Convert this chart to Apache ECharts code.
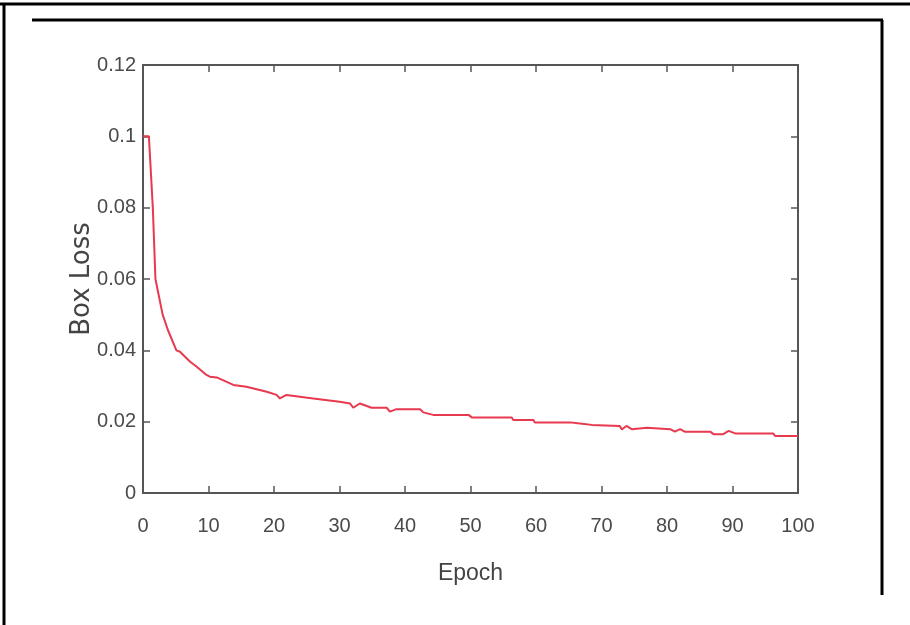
<!DOCTYPE html>
<html>
<head>
<meta charset="utf-8">
<script src="https://cdn.jsdelivr.net/npm/echarts@6/dist/echarts.min.js"></script>
<style>html,body{margin:0;padding:0;background:#fff;}#c{width:910px;height:625px;}</style>
</head>
<body>
<div id="c"></div>
<script>
const epochs = [0, 0.9, 1.5, 1.9, 3.0, 3.8, 5.1, 5.65, 7.2, 8.2, 9.7, 10.2, 11.25, 13.8, 15.8, 18.9, 20.4, 20.9, 21.9, 26, 30, 31.6, 32.1, 33.1, 34.9, 37.2, 37.7, 38.7, 42.3, 42.8, 44.3, 49.7, 50.2, 56.3, 56.5, 59.6, 59.8, 65.2, 66.7, 68.5, 72.8, 73.1, 73.8, 74.6, 76.9, 80.5, 81.2, 82, 82.7, 86.6, 87.1, 88.6, 89.4, 90.4, 96.2, 96.5, 100];
const boxLoss = [0.1, 0.1, 0.08, 0.06, 0.050, 0.0457, 0.0400, 0.0396, 0.0368, 0.0354, 0.0331, 0.0326, 0.0324, 0.0303, 0.0298, 0.0284, 0.0275, 0.0265, 0.0275, 0.0265, 0.0256, 0.0251, 0.0239, 0.0251, 0.0239, 0.0239, 0.0228, 0.0235, 0.0235, 0.0226, 0.0219, 0.0219, 0.0212, 0.0212, 0.0205, 0.0205, 0.0198, 0.0198, 0.0195, 0.0191, 0.0188, 0.0178, 0.0188, 0.0179, 0.0183, 0.0179, 0.0172, 0.0179, 0.0172, 0.0172, 0.0165, 0.0165, 0.0174, 0.0167, 0.0167, 0.0160, 0.0160];
const xTicks = {min: 0, max: 100, interval: 10};
const yTicks = {min: 0, max: 0.12, interval: 0.02};
const xName = 'Epoch';
const yName = 'Box Loss';

const chart = echarts.init(document.getElementById('c'), null, {renderer: 'canvas'});
const axisLine = {show: true, onZero: false, lineStyle: {color: '#555', width: 2}};
const tickIn = {show: true, inside: true, length: 7, lineStyle: {color: '#555', width: 1.5}};
const lblFont = {fontFamily: '"Liberation Sans Narrow", "Liberation Sans", Arial, sans-serif', fontSize: 20, color: '#4a4a4a'};
chart.setOption({
  animation: false,
  backgroundColor: '#fff',
  grid: {left: 143, top: 65, right: 112, bottom: 132, containLabel: false},
  xAxis: [
    {type: 'value', min: xTicks.min, max: xTicks.max, interval: xTicks.interval, position: 'bottom',
     name: xName, nameLocation: 'middle', nameGap: 69, nameMoveOverlap: false,
     nameTextStyle: {fontFamily: '"Liberation Sans Narrow", "Liberation Sans", Arial, sans-serif', fontSize: 23, color: '#444'},
     axisLine: axisLine, axisTick: tickIn, splitLine: {show: false},
     axisLabel: Object.assign({margin: 23}, lblFont)},
    {type: 'value', min: xTicks.min, max: xTicks.max, interval: xTicks.interval, position: 'top',
     axisLine: axisLine, axisTick: tickIn, splitLine: {show: false}, axisLabel: {show: false}}
  ],
  yAxis: [
    {type: 'value', min: yTicks.min, max: yTicks.max, interval: yTicks.interval, position: 'left',
     name: yName, nameLocation: 'middle', nameGap: 48, nameMoveOverlap: false,
     nameTextStyle: {fontFamily: '"DejaVu Sans", sans-serif', fontSize: 26, color: '#444'},
     axisLine: axisLine, axisTick: tickIn, splitLine: {show: false},
     axisLabel: Object.assign({margin: 7, formatter: v => String(parseFloat(v.toFixed(2)))}, lblFont)},
    {type: 'value', min: yTicks.min, max: yTicks.max, interval: yTicks.interval, position: 'right',
     axisLine: axisLine, axisTick: tickIn, splitLine: {show: false}, axisLabel: {show: false}}
  ],
  series: [{
    type: 'line', xAxisIndex: 0, yAxisIndex: 0, showSymbol: false, smooth: false,
    lineStyle: {color: '#e8394f', width: 2},
    data: epochs.map((e, i) => [e, boxLoss[i]])
  }],
  graphic: [
    {type: 'line', shape: {x1: 0, y1: 4, x2: 910, y2: 4}, style: {stroke: '#000', lineWidth: 3}},
    {type: 'line', shape: {x1: 4, y1: 4, x2: 4, y2: 625}, style: {stroke: '#000', lineWidth: 3}},
    {type: 'line', shape: {x1: 32, y1: 20, x2: 883, y2: 20}, style: {stroke: '#000', lineWidth: 3}},
    {type: 'line', shape: {x1: 882, y1: 20, x2: 882, y2: 595}, style: {stroke: '#000', lineWidth: 3}}
  ]
});
</script>
</body>
</html>
